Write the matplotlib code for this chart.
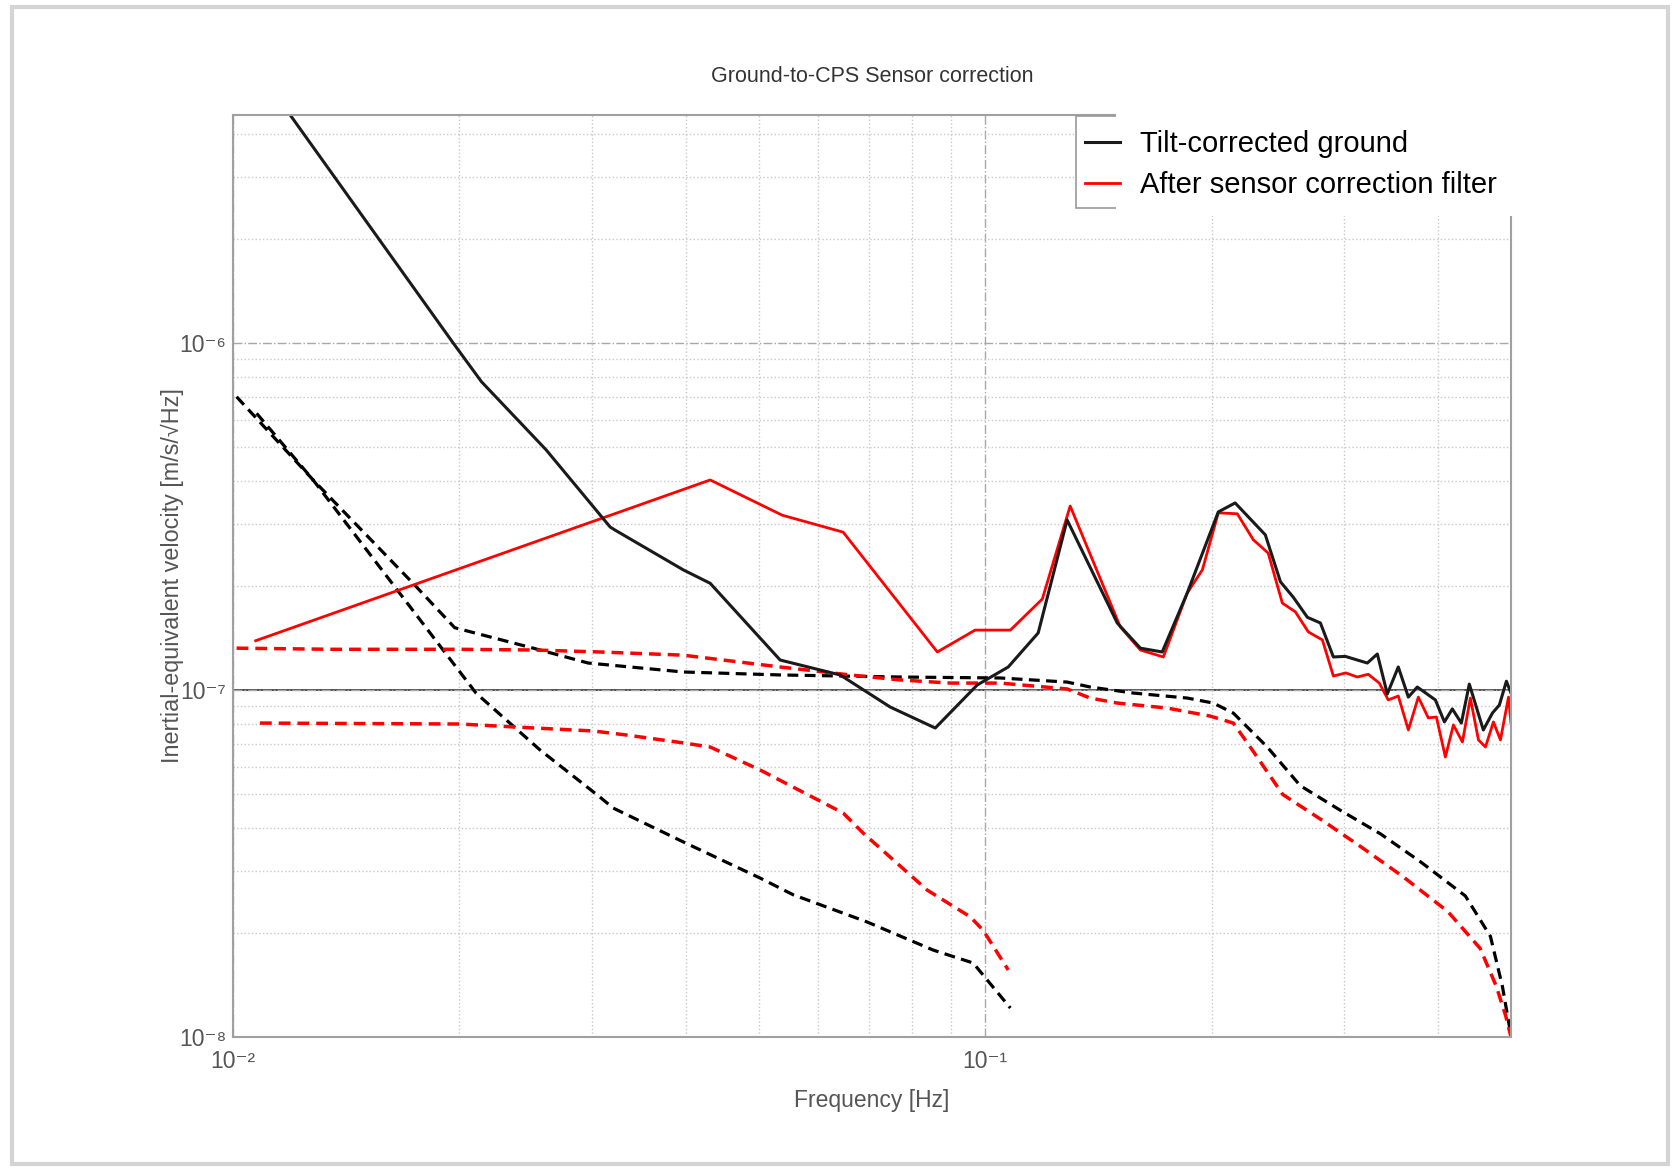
import matplotlib
matplotlib.use('Agg')
from matplotlib import pyplot as plt
from matplotlib.patches import Rectangle
from matplotlib.ticker import LogLocator, NullFormatter, FixedLocator, FixedFormatter

plt.rcParams['font.family'] = ['Liberation Sans', 'DejaVu Sans']

# Tilt-corrected ground (solid black)
tilt_f = [0.01154, 0.01962, 0.0214, 0.02608, 0.03172, 0.0322, 0.03967, 0.04309, 0.05338, 0.06415,
          0.07477, 0.08582, 0.09759, 0.1073, 0.1176, 0.1285, 0.1498, 0.1608, 0.1719, 0.1856,
          0.2041, 0.2149, 0.2357, 0.2469, 0.2568, 0.2681, 0.2790, 0.2903, 0.3011, 0.3124,
          0.3221, 0.3321, 0.3424, 0.3541, 0.3652, 0.3753, 0.3967, 0.4078, 0.4178, 0.4295,
          0.4401, 0.4594, 0.4723, 0.4825, 0.4930, 0.5]
tilt_v = [5.0e-6, 1.0e-6, 7.73e-7, 4.92e-7, 2.95e-7, 2.89e-7, 2.22e-7, 2.03e-7, 1.22e-7, 1.105e-7,
          8.93e-8, 7.77e-8, 1.034e-7, 1.165e-7, 1.46e-7, 3.09e-7, 1.56e-7, 1.32e-7, 1.287e-7, 1.904e-7,
          3.26e-7, 3.46e-7, 2.80e-7, 2.05e-7, 1.85e-7, 1.62e-7, 1.56e-7, 1.245e-7, 1.25e-7, 1.22e-7,
          1.196e-7, 1.27e-7, 9.74e-8, 1.165e-7, 9.54e-8, 1.02e-7, 9.36e-8, 8.09e-8, 8.82e-8, 8.03e-8,
          1.04e-7, 7.67e-8, 8.58e-8, 9.05e-8, 1.06e-7, 9.8e-8]

# After sensor correction filter (solid red)
sc_f = [0.01072, 0.04309, 0.05371, 0.06474, 0.08636, 0.09694, 0.108, 0.1191, 0.1297, 0.1512,
        0.1608, 0.1725, 0.1856, 0.1944, 0.2041, 0.2163, 0.2272, 0.2378, 0.2483, 0.2584,
        0.2689, 0.2807, 0.2903, 0.3015, 0.3124, 0.3230, 0.3341, 0.3434, 0.3541, 0.3652,
        0.3765, 0.3882, 0.3979, 0.4090, 0.4192, 0.4309, 0.4415, 0.4526, 0.4624, 0.4738,
        0.4841, 0.4962, 0.5]
sc_v = [1.387e-7, 4.03e-7, 3.19e-7, 2.85e-7, 1.287e-7, 1.488e-7, 1.488e-7, 1.829e-7, 3.39e-7, 1.52e-7,
        1.304e-7, 1.245e-7, 1.904e-7, 2.22e-7, 3.24e-7, 3.22e-7, 2.71e-7, 2.48e-7, 1.78e-7, 1.68e-7,
        1.47e-7, 1.394e-7, 1.097e-7, 1.12e-7, 1.09e-7, 1.11e-7, 1.047e-7, 9.36e-8, 9.61e-8, 7.67e-8,
        9.54e-8, 8.31e-8, 8.36e-8, 6.41e-8, 7.93e-8, 7.08e-8, 9.48e-8, 7.18e-8, 6.85e-8, 8.09e-8,
        7.18e-8, 9.54e-8, 8.03e-8]

# dashed curves
kd1_f = [0.01011, 0.01278, 0.01744, 0.01971, 0.02506, 0.02966, 0.03967, 0.05338, 0.0771, 0.1047,
         0.1285, 0.1379, 0.1573, 0.1856, 0.2010, 0.2137, 0.2371, 0.2623, 0.2966, 0.3353,
         0.3789, 0.4348, 0.4695, 0.4870, 0.5]
kd1_v = [7.0e-7, 4.03e-7, 2.007e-7, 1.512e-7, 1.32e-7, 1.196e-7, 1.127e-7, 1.105e-7, 1.09e-7, 1.083e-7,
         1.054e-7, 1.02e-7, 9.8e-8, 9.48e-8, 9.17e-8, 8.58e-8, 6.85e-8, 5.3e-8, 4.5e-8, 3.85e-8,
         3.2e-8, 2.55e-8, 1.95e-8, 1.4e-8, 1.01e-8]

kd2_f = [0.01075, 0.01278, 0.01666, 0.02104, 0.02559, 0.03076, 0.03201, 0.03967, 0.05022, 0.05555,
         0.06967, 0.08530, 0.09639, 0.1006, 0.1080]
kd2_v = [6.27e-7, 4.03e-7, 1.90e-7, 9.8e-8, 6.72e-8, 4.91e-8, 4.57e-8, 3.65e-8, 2.87e-8, 2.57e-8,
         2.145e-8, 1.78e-8, 1.634e-8, 1.46e-8, 1.212e-8]

rd1_f = [0.01011, 0.01358, 0.02003, 0.02506, 0.03076, 0.03967, 0.05338, 0.06613, 0.0771, 0.0898,
         0.1047, 0.1285, 0.1379, 0.1498, 0.1746, 0.1991, 0.2137, 0.2251, 0.2486, 0.2811,
         0.3178, 0.3591, 0.412, 0.455, 0.478, 0.492, 0.5]
rd1_v = [1.32e-7, 1.31e-7, 1.31e-7, 1.304e-7, 1.287e-7, 1.26e-7, 1.165e-7, 1.105e-7, 1.069e-7, 1.047e-7,
         1.047e-7, 1.007e-7, 9.48e-8, 9.17e-8, 8.87e-8, 8.41e-8, 8.03e-8, 6.85e-8, 5.0e-8, 4.2e-8,
         3.5e-8, 2.9e-8, 2.3e-8, 1.8e-8, 1.4e-8, 1.15e-8, 1.0e-8]

rd2_f = [0.01086, 0.02003, 0.02378, 0.03011, 0.03331, 0.03967, 0.04309, 0.05022, 0.06474, 0.06882,
         0.08374, 0.09552, 0.09938, 0.1073]
rd2_v = [8.03e-8, 7.98e-8, 7.82e-8, 7.62e-8, 7.42e-8, 7.04e-8, 6.85e-8, 5.88e-8, 4.42e-8, 3.87e-8,
         2.65e-8, 2.22e-8, 2.03e-8, 1.56e-8]

req_level = 1e-7

xticks = [0.01, 0.1]
xticklabels = ['10\u207b\u00b2', '10\u207b\u00b9']
yticks = [1e-8, 1e-7, 1e-6]
yticklabels = ['10\u207b\u2078', '10\u207b\u2077', '10\u207b\u2076']

W, H = 1679, 1169
fig = plt.figure(figsize=(W / 100, H / 100), dpi=100)
fig.patches.append(Rectangle((12/W, 5/H), 1656/W, 1157/H, transform=fig.transFigure,
                             fill=False, edgecolor='#d4d4d4', lw=3, zorder=0))
ax = fig.add_axes([233/W, 132/H, 1278/W, 922/H])

dash = (0, (3.4, 2.0))
ax.plot(kd1_f, kd1_v, color='black', lw=2.3, linestyle=dash)
ax.plot(kd2_f, kd2_v, color='black', lw=2.3, linestyle=dash)
ax.plot(rd1_f, rd1_v, color='red', lw=2.5, linestyle=dash)
ax.plot(rd2_f, rd2_v, color='red', lw=2.5, linestyle=dash)
ax.axhline(req_level, color='#333333', lw=1.2, zorder=1)
ax.plot(sc_f, sc_v, color='red', lw=2.0, label='After sensor correction filter')
ax.plot(tilt_f, tilt_v, color='#1a1a1a', lw=2.2, label='Tilt-corrected ground')

ax.set_xscale('log')
ax.set_yscale('log')
ax.set_xlim(0.01, 0.5)
ax.set_ylim(1e-8, 4.54e-6)

ax.xaxis.set_major_locator(FixedLocator(xticks))
ax.xaxis.set_major_formatter(FixedFormatter(xticklabels))
ax.yaxis.set_major_locator(FixedLocator(yticks))
ax.yaxis.set_major_formatter(FixedFormatter(yticklabels))
ax.xaxis.set_minor_locator(LogLocator(base=10, subs=range(2, 10), numticks=20))
ax.yaxis.set_minor_locator(LogLocator(base=10, subs=range(2, 10), numticks=20))
ax.xaxis.set_minor_formatter(NullFormatter())
ax.yaxis.set_minor_formatter(NullFormatter())
ax.grid(which='major', color='#a8a8a8', linestyle='-.', lw=1.0)
ax.grid(which='minor', color='#c8c8c8', linestyle=':', lw=1.0)
ax.tick_params(which='both', length=0, labelsize=16.5, labelcolor='#555555')
ax.tick_params(axis='x', pad=9)
ax.tick_params(axis='y', pad=5)
for s in ax.spines.values():
    s.set_color('#a0a0a0')
    s.set_linewidth(1.5)

ax.set_title('Ground-to-CPS Sensor correction', fontsize=15.5, color='#333333', pad=24)
ax.set_xlabel('Frequency [Hz]', fontsize=16.5, color='#555555', labelpad=12)
ax.set_ylabel('Inertial-equivalent velocity [m/s/\u221aHz]', fontsize=16.8, color='#555555')
ax.yaxis.set_label_coords(-0.038, 0.5)

# legend: gray frame partly hidden by a white label box
fig.patches.append(Rectangle((1076/W, 1 - 208/H), 224/W, 92/H, transform=fig.transFigure,
                             facecolor='white', edgecolor='#9a9a9a', lw=1.2, zorder=5))
fig.patches.append(Rectangle((1116/W, 1 - 216/H), 400/W, 110/H, transform=fig.transFigure,
                             facecolor='white', edgecolor='none', zorder=6))
h, l = ax.get_legend_handles_labels()
leg = fig.legend(h[::-1], l[::-1], loc='upper left', bbox_to_anchor=(1076/W, 1 - 121/H),
                 fontsize=21, frameon=False, handlelength=1.2, handletextpad=0.7,
                 borderaxespad=0, labelspacing=0.45, borderpad=0.3)
leg.set_zorder(7)

fig.savefig('out.png', dpi=100, facecolor='white')
